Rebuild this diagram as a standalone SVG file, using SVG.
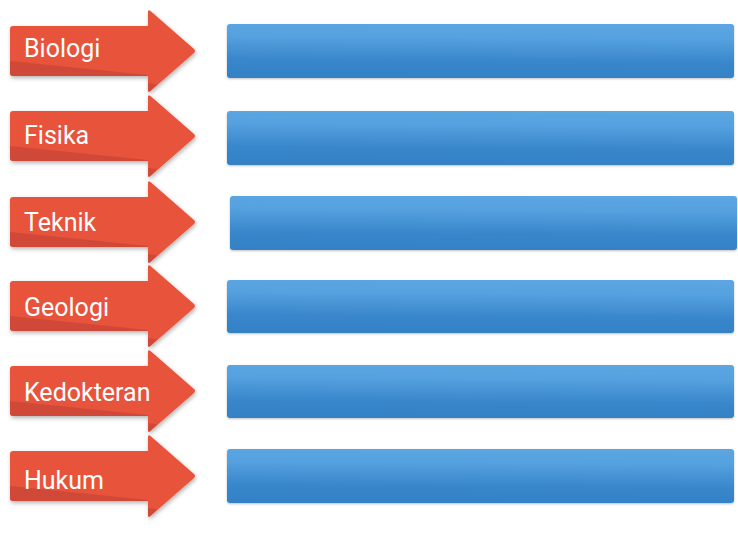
<svg xmlns="http://www.w3.org/2000/svg" width="738" height="534" viewBox="0 0 738 534">
<defs>
<style>
.lbl{font-family:Roboto,"Liberation Sans",sans-serif;font-size:25px;fill:#ffffff}
.arr{fill:#e8533b}
.shade{fill:#d04a38}
.bar{fill:url(#bg)}
</style>
<linearGradient id="bg" x1="0.47" y1="1" x2="0.53" y2="0">
<stop offset="0" stop-color="#3481c6"/>
<stop offset="0.3" stop-color="#3886cb"/>
<stop offset="0.75" stop-color="#56a1df"/>
<stop offset="1" stop-color="#5ba6e2"/>
</linearGradient>
<filter id="sh" x="-10%" y="-20%" width="125%" height="150%">
<feDropShadow dx="1" dy="2" stdDeviation="2" flood-color="#000" flood-opacity="0.3"/>
</filter>
<filter id="bsh" x="-5%" y="-20%" width="110%" height="150%">
<feDropShadow dx="0" dy="1" stdDeviation="1.2" flood-color="#000" flood-opacity="0.25"/>
</filter>
<g id="arrowShape">
<path class="arr" d="M13,-25 L148,-25 L148,-39 Q148,-42 150.5,-40 L194,-2 Q196,0 194,2 L150.5,40 Q148,42 148,39 L148,25 L13,25 Q10,25 10,22 L10,-22 Q10,-25 13,-25 Z"/>
<path class="shade" d="M10,10 L148,24 L148,25 L13,25 Q10,25 10,22 Z"/>
<path class="shade" d="M148,32 L157,33.3 L150.5,40 Q148,42 148,39 Z"/>
</g>
</defs>
<g id="connectors"></g>
<g id="bar-biologi"><rect class="bar" filter="url(#bsh)" x="227" y="24" width="507" height="54" rx="3"/></g>
<g id="bar-fisika"><rect class="bar" filter="url(#bsh)" x="227" y="111" width="507" height="54" rx="3"/></g>
<g id="bar-teknik"><rect class="bar" filter="url(#bsh)" x="230" y="196" width="507" height="54" rx="3"/></g>
<g id="bar-geologi"><rect class="bar" filter="url(#bsh)" x="227" y="280" width="507" height="53" rx="3"/></g>
<g id="bar-kedokteran"><rect class="bar" filter="url(#bsh)" x="227" y="365" width="507" height="53" rx="3"/></g>
<g id="bar-hukum"><rect class="bar" filter="url(#bsh)" x="227" y="449" width="507" height="54" rx="3"/></g>
<g id="arrow-hukum"><use href="#arrowShape" transform="translate(0,476)" filter="url(#sh)"/><text class="lbl" x="24" y="489">Hukum</text></g>
<g id="arrow-kedokteran"><use href="#arrowShape" transform="translate(0,391)" filter="url(#sh)"/><text class="lbl" x="24" y="401">Kedokteran</text></g>
<g id="arrow-geologi"><use href="#arrowShape" transform="translate(0,306)" filter="url(#sh)"/><text class="lbl" x="24" y="316">Geologi</text></g>
<g id="arrow-teknik"><use href="#arrowShape" transform="translate(0,222)" filter="url(#sh)"/><text class="lbl" x="24" y="231">Teknik</text></g>
<g id="arrow-fisika"><use href="#arrowShape" transform="translate(0,136)" filter="url(#sh)"/><text class="lbl" x="24" y="144">Fisika</text></g>
<g id="arrow-biologi"><use href="#arrowShape" transform="translate(0,51)" filter="url(#sh)"/><text class="lbl" x="24" y="57">Biologi</text></g>
</svg>
